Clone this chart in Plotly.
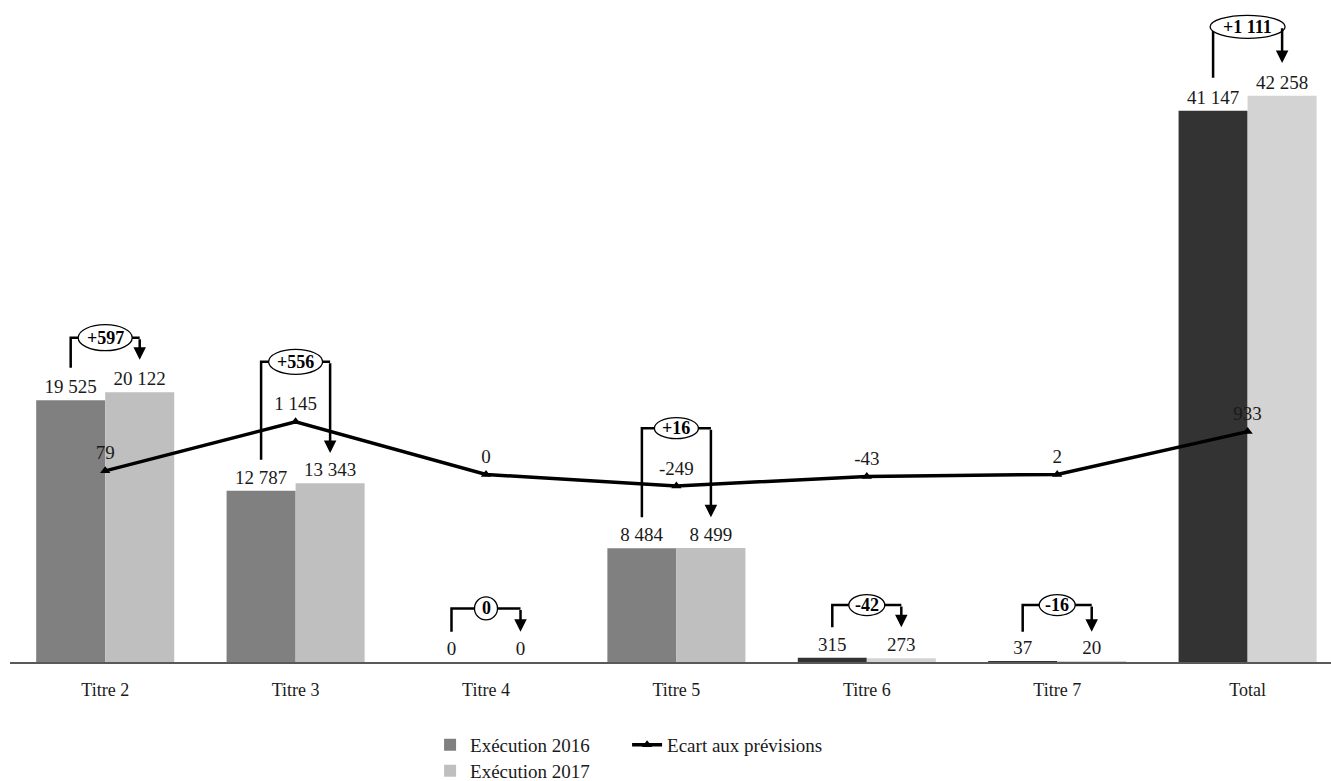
import plotly.graph_objects as go

# ---- data -------------------------------------------------------------
categories = ["Titre 2", "Titre 3", "Titre 4", "Titre 5", "Titre 6", "Titre 7", "Total"]
execution_2016 = [19525, 12787, 0, 8484, 315, 37, 41147]
execution_2017 = [20122, 13343, 0, 8499, 273, 20, 42258]
ecart_previsions = [79, 1145, 0, -249, -43, 2, 933]
variation_labels = ["+597", "+556", "0", "+16", "-42", "-16", "+1 111"]

# ---- styling ----------------------------------------------------------
FONT = "Liberation Serif"
colors_2016 = ["#808080", "#808080", "#808080", "#808080", "#333333", "#333333", "#333333"]
colors_2017 = ["#bfbfbf", "#bfbfbf", "#bfbfbf", "#bfbfbf", "#d3d3d3", "#d3d3d3", "#d3d3d3"]

# variation brackets, in primary-axis units: horizontal level, foot of the
# left leg, and tip of the arrow on the right leg
bracket_level = [24200, 22400, 4000, 17450, 4250, 4250, 47400]
bracket_foot = [21950, 15100, 2250, 10800, 2600, 2250, 43600]
bracket_tip = [22550, 15600, 2250, 10800, 2600, 2250, 44700]
bubble_px = [(54, 26), (54, 25), (23, 23), (44, 21), (36, 21), (36, 21), (75, 23)]

BARGAP = 0.275
HALF = (1 - BARGAP) / 4  # distance from category centre to each bar centre


def fmt(v):
    return f"{v:,}".replace(",", " ")


xpos = list(range(len(categories)))

fig = go.Figure()

fig.add_trace(go.Bar(
    x=xpos, y=execution_2016, name="Exécution 2016",
    marker=dict(color=colors_2016, line=dict(width=0)),
    text=[fmt(v) for v in execution_2016], textposition="outside",
    textfont=dict(family=FONT, size=19, color="#1a1a1a"),
    constraintext="none", cliponaxis=False, legend="legend",
))
fig.add_trace(go.Bar(
    x=xpos, y=execution_2017, name="Exécution 2017",
    marker=dict(color=colors_2017, line=dict(width=0)),
    text=[fmt(v) for v in execution_2017], textposition="outside",
    textfont=dict(family=FONT, size=19, color="#1a1a1a"),
    constraintext="none", cliponaxis=False, legend="legend2",
))
fig.add_trace(go.Scatter(
    x=xpos, y=ecart_previsions, name="Ecart aux prévisions", yaxis="y2",
    mode="lines+markers+text",
    line=dict(color="black", width=3.5),
    marker=dict(symbol="triangle-up", size=9, color="black"),
    text=[fmt(v) for v in ecart_previsions], textposition="top center",
    textfont=dict(family=FONT, size=19, color="#1a1a1a"),
    cliponaxis=False, legend="legend",
))

shapes = []
annotations = []
for i, lab in enumerate(variation_labels):
    xl, xr = i - HALF, i + HALF
    top, foot, tip = bracket_level[i], bracket_foot[i], bracket_tip[i]
    # left leg and horizontal bar of the bracket
    shapes.append(dict(type="path", xref="x", yref="y",
                       path=f"M {xl},{foot} L {xl},{top} L {xr},{top}",
                       line=dict(color="black", width=2.5), layer="above"))
    # right leg ending in an arrow head
    annotations.append(dict(x=xr, y=tip, ax=xr, ay=top, xref="x", yref="y",
                            axref="x", ayref="y", text="", showarrow=True,
                            arrowhead=2, arrowsize=1, arrowwidth=2.5,
                            arrowcolor="black", standoff=0))
    # bubble holding the variation
    w, h = bubble_px[i]
    shapes.append(dict(type="circle", xref="x", yref="y",
                       xsizemode="pixel", ysizemode="pixel",
                       xanchor=i, yanchor=top,
                       x0=-w / 2, x1=w / 2, y0=-h / 2, y1=h / 2,
                       fillcolor="white", line=dict(color="black", width=1.3),
                       layer="above"))
    annotations.append(dict(x=i, y=top, xref="x", yref="y", text=f"<b>{lab}</b>",
                            showarrow=False, font=dict(family=FONT, size=18, color="black"),
                            xanchor="center", yanchor="middle"))

fig.update_layout(
    width=1331, height=781,
    margin=dict(l=10, r=0, t=10, b=119, autoexpand=False),
    paper_bgcolor="white", plot_bgcolor="white",
    barmode="group", bargap=BARGAP, bargroupgap=0,
    font=dict(family=FONT, size=19, color="#1a1a1a"),
    xaxis=dict(range=[-0.5, 6.438], tickmode="array", tickvals=xpos, ticktext=categories,
               showline=True, linecolor="#595959", linewidth=2, showgrid=False,
               zeroline=False, ticks="", ticklabelstandoff=10,
               tickfont=dict(family=FONT, size=18, color="#1a1a1a")),
    yaxis=dict(range=[0, 48657], visible=False, showgrid=False, zeroline=False),
    yaxis2=dict(range=[-4076, 10098], overlaying="y", visible=False,
                showgrid=False, zeroline=False),
    shapes=shapes, annotations=annotations,
    legend=dict(orientation="h", x=0.318, y=-0.127, xanchor="left", yanchor="middle",
                entrywidth=152, entrywidthmode="pixels",
                font=dict(family=FONT, size=19, color="#1a1a1a"), bgcolor="rgba(0,0,0,0)"),
    legend2=dict(orientation="h", x=0.318, y=-0.167, xanchor="left", yanchor="middle",
                 font=dict(family=FONT, size=19, color="#1a1a1a"), bgcolor="rgba(0,0,0,0)"),
)

fig.write_html("out.html")
